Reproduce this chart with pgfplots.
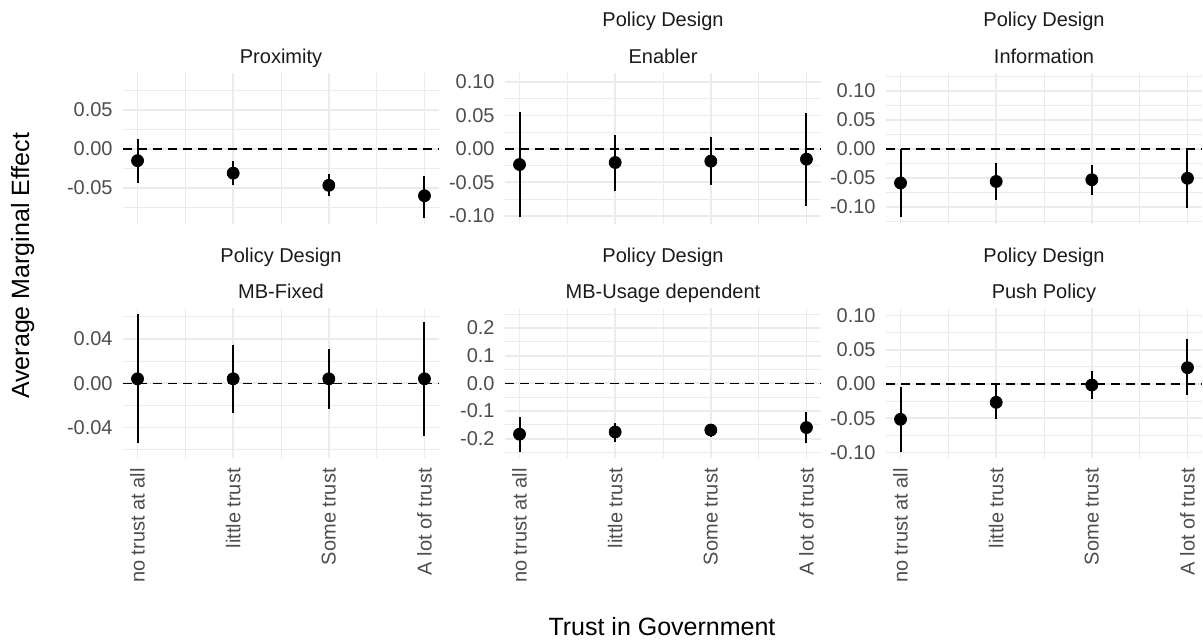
\documentclass[border=0pt]{standalone}
\usepackage{pgfplots}
\pgfplotsset{compat=1.18}
\usepackage{pgfplotstable}
\usepackage{fontspec}
\setmainfont{Liberation Sans}
\definecolor{gridc}{RGB}{235,235,235}
\definecolor{tickc}{RGB}{77,77,77}
\definecolor{stripc}{RGB}{26,26,26}

\pgfplotstableread{
x y lo hi
1 -0.0150 -0.0430 0.0130
2 -0.0310 -0.0460 -0.0150
3 -0.0466 -0.0600 -0.0320
4 -0.0600 -0.0880 -0.0350
}\proximity
\pgfplotstableread{
x y lo hi
1 -0.0234 -0.1020 0.0557
2 -0.0204 -0.0627 0.0209
3 -0.0184 -0.0542 0.0179
4 -0.0154 -0.0860 0.0540
}\enabler
\pgfplotstableread{
x y lo hi
1 -0.0586 -0.1180 0.0000
2 -0.0560 -0.0880 -0.0247
3 -0.0530 -0.0800 -0.0270
4 -0.0505 -0.1020 0.0000
}\information
\pgfplotstableread{
x y lo hi
1 0.0040 -0.0543 0.0627
2 0.0040 -0.0272 0.0347
3 0.0040 -0.0233 0.0308
4 0.0040 -0.0480 0.0555
}\mbfixed
\pgfplotstableread{
x y lo hi
1 -0.1840 -0.2470 -0.1230
2 -0.1760 -0.2110 -0.1440
3 -0.1690 -0.1950 -0.1500
4 -0.1600 -0.2140 -0.1050
}\mbusage
\pgfplotstableread{
x y lo hi
1 -0.0515 -0.0987 -0.0048
2 -0.0267 -0.0515 -0.0010
3 -0.0015 -0.0223 0.0190
4 0.0238 -0.0165 0.0650
}\push

\pgfplotsset{
  facet/.style={
    scale only axis, width=158pt, anchor=south west, clip=false,
    xmin=0.848, xmax=4.152, xtick={1,2,3,4}, minor xtick={1.5,2.5,3.5},
    scaled y ticks=false,
    grid=both,
    major grid style={draw=gridc, line width=0.9pt},
    minor grid style={draw=gridc, line width=0.45pt},
    axis line style={draw=none}, tick style={draw=none},
    major tick length=0pt, minor tick length=0pt,
    ticklabel style={font=\fontsize{10}{12}\selectfont, text=tickc},
    yticklabel style={inner sep=0pt, xshift=-5pt},
  },
  toprow/.style={height=75.5pt, xticklabels={}},
  botrow/.style={height=75pt,
    xticklabels={no trust at all, little trust, Some trust, A lot of trust},
    xticklabel style={rotate=90, anchor=east, inner ysep=0pt, inner xsep=5pt}},
  pts/.style={only marks, mark=*, mark size=3pt, mark options={draw=black, fill=black},
    error bars/.cd, y dir=both, y explicit, error mark=none,
    error bar style={line width=1pt, black}},
  zeroline/.style={black, line width=0.7pt, dash pattern=on 4.5pt off 3pt},
}
\newcommand{\strip}[1]{\node[anchor=base, font=\fontsize{10}{12}\selectfont, text=stripc, yshift=4.6pt] at (rel axis cs:0.5,1) {#1};}
\newcommand{\stripp}{\node[anchor=base, font=\fontsize{10}{12}\selectfont, text=stripc, yshift=23pt] at (rel axis cs:0.5,1) {Policy Design};}
\newcommand{\series}[1]{\addplot[pts] table[x=x, y=y,
    y error plus expr=\thisrow{hi}-\thisrow{y},
    y error minus expr=\thisrow{y}-\thisrow{lo}] {#1};}

\begin{document}
\begin{tikzpicture}
\useasboundingbox (0,0) rectangle (601.5pt,319.5pt);

% Proximity
\begin{axis}[facet, toprow, at={(61.5pt,207.5pt)},
  ymin=-0.0962, ymax=0.0974,
  ytick={-0.05,0,0.05}, yticklabels={-0.05,0.00,0.05},
  minor ytick={-0.075,-0.025,0.025,0.075}]
\addplot[zeroline] coordinates {(0.848,0) (4.152,0)};
\series{\proximity}
\strip{Proximity}
\end{axis}

% Enabler
\begin{axis}[facet, toprow, at={(252.5pt,207.5pt)},
  ymin=-0.1123, ymax=0.1134,
  ytick={-0.1,-0.05,0,0.05,0.1}, yticklabels={-0.10,-0.05,0.00,0.05,0.10},
  minor ytick={-0.075,-0.025,0.025,0.075}]
\addplot[zeroline] coordinates {(0.848,0) (4.152,0)};
\series{\enabler}
\strip{Enabler}
\stripp
\end{axis}

% Information
\begin{axis}[facet, toprow, at={(443pt,207.5pt)},
  ymin=-0.1293, ymax=0.131,
  ytick={-0.1,-0.05,0,0.05,0.1}, yticklabels={-0.10,-0.05,0.00,0.05,0.10},
  minor ytick={-0.125,-0.075,-0.025,0.025,0.075,0.125}]
\addplot[zeroline] coordinates {(0.848,0) (4.152,0)};
\series{\information}
\strip{Information}
\stripp
\end{axis}

% MB-Fixed
\begin{axis}[facet, botrow, at={(61.5pt,90.5pt)},
  ymin=-0.0676, ymax=0.068,
  ytick={-0.04,0,0.04}, yticklabels={-0.04,0.00,0.04},
  minor ytick={-0.06,-0.02,0.02,0.06}]
\addplot[zeroline] coordinates {(0.848,0) (4.152,0)};
\series{\mbfixed}
\strip{MB-Fixed}
\stripp
\end{axis}

% MB-Usage dependent
\begin{axis}[facet, botrow, at={(252.5pt,90.5pt)},
  ymin=-0.27, ymax=0.272,
  ytick={-0.2,-0.1,0,0.1,0.2}, yticklabels={-0.2,-0.1,0.0,0.1,0.2},
  minor ytick={-0.25,-0.15,-0.05,0.05,0.15,0.25}]
\addplot[zeroline] coordinates {(0.848,0) (4.152,0)};
\series{\mbusage}
\strip{MB-Usage dependent}
\stripp
\end{axis}

% Push Policy
\begin{axis}[facet, botrow, at={(443pt,90.5pt)},
  ymin=-0.1079, ymax=0.1108,
  ytick={-0.1,-0.05,0,0.05,0.1}, yticklabels={-0.10,-0.05,0.00,0.05,0.10},
  minor ytick={-0.075,-0.025,0.025,0.075}]
\addplot[zeroline] coordinates {(0.848,0) (4.152,0)};
\series{\push}
\strip{Push Policy}
\stripp
\end{axis}

\node[rotate=90, font=\fontsize{12.5}{15}\selectfont] at (11.35pt,186.6pt) {Average Marginal Effect};
\node[anchor=base, font=\fontsize{12.5}{15}\selectfont] at (331pt,2pt) {Trust in Government};
\end{tikzpicture}
\end{document}
